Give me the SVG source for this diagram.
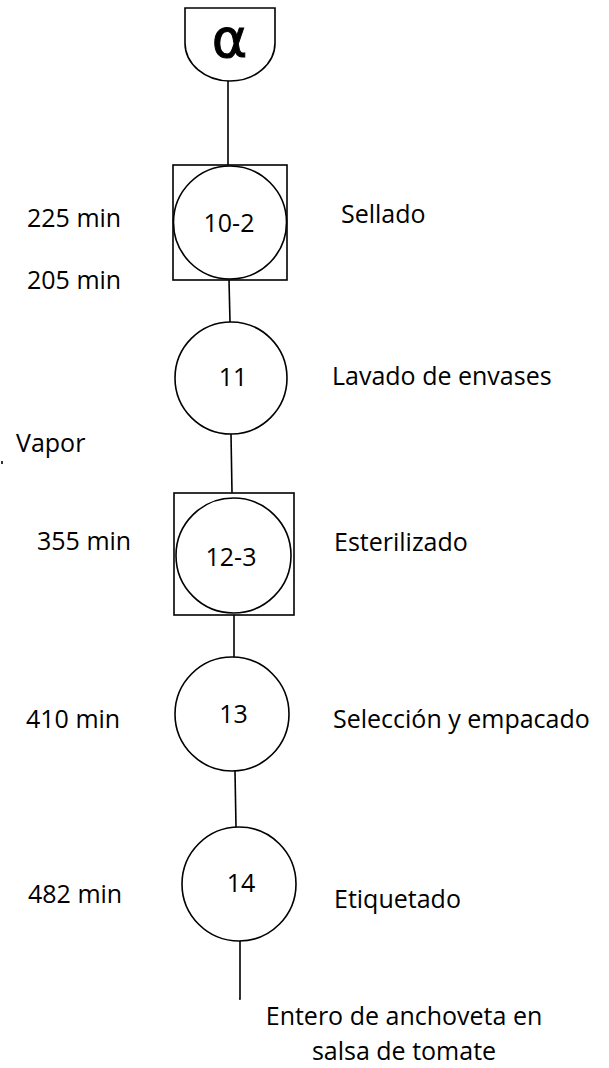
<svg xmlns="http://www.w3.org/2000/svg" width="609" height="1068" viewBox="0 0 609 1068">
<style>
.s{fill:none;stroke:#000;stroke-width:1.6}
.n{fill:#fff;stroke:#000;stroke-width:1.6}
text{font-family:"Open Sans","Noto Sans",sans-serif;font-size:25px;fill:#000}
.c{text-anchor:middle}
</style>
<rect width="609" height="1068" fill="#fff"/>
<g id="connectors">
<line class="s" x1="228" y1="81" x2="228" y2="165"/>
<line class="s" x1="229" y1="280" x2="230" y2="322"/>
<line class="s" x1="231" y1="434" x2="232" y2="493"/>
<line class="s" x1="234" y1="615" x2="234" y2="657"/>
<line class="s" x1="235" y1="771" x2="236" y2="827"/>
<polyline class="s" points="240,941 240,999 239,999"/>
<line class="s" x1="2" y1="461" x2="2" y2="464"/>
</g>
<g id="alpha">
<path class="n" d="M185,8 H275 V43 A45,38 0 0 1 185,43 Z"/>
<text x="229.5" y="57" class="c" style="font-family:'DejaVu Sans',sans-serif;font-size:54px;stroke:#000;stroke-width:1">α</text>
</g>
<g id="op10-2">
<rect class="n" x="173" y="165" width="114" height="115"/>
<circle class="n" cx="230" cy="222.5" r="56.5"/>
<text x="229" y="232" class="c">10-2</text>
</g>
<g id="op11">
<circle class="n" cx="231" cy="378" r="56"/>
<text x="233" y="386" class="c">11</text>
</g>
<g id="op12-3">
<rect class="n" x="174" y="493" width="120" height="122"/>
<circle class="n" cx="233.5" cy="555.5" r="57.5"/>
<text x="231" y="566" class="c">12-3</text>
</g>
<g id="op13">
<circle class="n" cx="232" cy="714" r="57"/>
<text x="233.5" y="723" class="c">13</text>
</g>
<g id="op14">
<circle class="n" cx="239" cy="884" r="57"/>
<text x="241" y="892" class="c">14</text>
</g>
<g id="labels">
<text x="27" y="227">225 min</text>
<text x="341" y="223">Sellado</text>
<text x="27" y="289">205 min</text>
<text x="332" y="385">Lavado de envases</text>
<text x="16" y="452">Vapor</text>
<text x="37" y="550">355 min</text>
<text x="334" y="551">Esterilizado</text>
<text x="26" y="728">410 min</text>
<text x="333" y="728">Selección y empacado</text>
<text x="28" y="903">482 min</text>
<text x="334" y="908">Etiquetado</text>
<text x="404" y="1025" class="c">Entero de anchoveta en</text>
<text x="404" y="1060" class="c">salsa de tomate</text>
</g>
</svg>
